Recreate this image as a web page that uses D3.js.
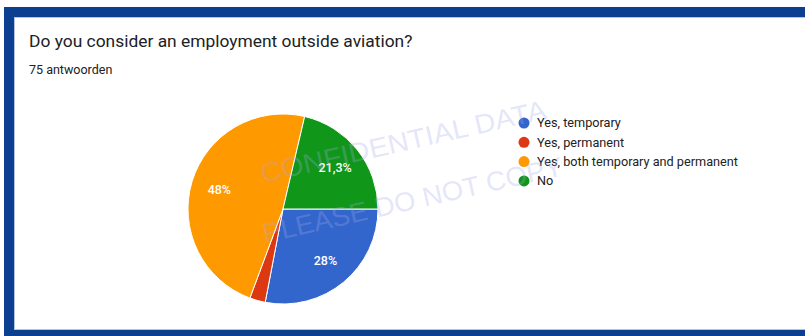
<!DOCTYPE html>
<html>
<head>
<meta charset="utf-8">
<script src="https://cdn.jsdelivr.net/npm/d3@7"></script>
<style>
  html, body { margin: 0; padding: 0; background: #fff; }
  svg { display: block; }
</style>
</head>
<body>
<svg id="chart" width="805" height="336"></svg>
<script>
const title = "Do you consider an employment outside aviation?";
const subtitle = "75 antwoorden";
const categories = ["Yes, temporary", "Yes, permanent", "Yes, both temporary and permanent", "No"];
const counts = [21, 2, 36, 16];
const colors = ["#3366cc", "#dc3912", "#ff9900", "#109618"];
const watermark = ["CONFIDENTIAL DATA", "PLEASE DO NOT COPY"];

const svg = d3.select("#chart");
const W = 805, H = 336;
const font = "Roboto, 'Liberation Sans', Arial, sans-serif";

// frame
const frameBlue = "#0d3f91";
svg.append("rect").attr("x", 4).attr("y", 7).attr("width", W - 4).attr("height", 10).attr("fill", frameBlue);
svg.append("rect").attr("x", 4).attr("y", 7).attr("width", 10).attr("height", H - 7).attr("fill", frameBlue);
svg.append("rect").attr("x", 4).attr("y", 330).attr("width", W - 4).attr("height", 6).attr("fill", frameBlue);
svg.append("rect").attr("x", 14.5).attr("y", 17.5).attr("width", W - 14).attr("height", 312)
  .attr("fill", "none").attr("stroke", "#b4c3e0").attr("stroke-width", 1);

// title
svg.append("text").attr("x", 29).attr("y", 47)
  .attr("font-family", font).attr("font-size", 17.4).attr("fill", "#202124")
  .text(title);
svg.append("text").attr("x", 29).attr("y", 74)
  .attr("font-family", font).attr("font-size", 12.5).attr("fill", "#202124")
  .text(subtitle);

// pie
const cx = 283, cy = 209, r = 95;
const total = d3.sum(counts);
const pie = d3.pie().sort(null).value(d => d)
  .startAngle(Math.PI / 2).endAngle(Math.PI / 2 + 2 * Math.PI);
const arcs = pie(counts);
const arc = d3.arc().innerRadius(0).outerRadius(r);
const labelArc = d3.arc().innerRadius(r * 0.7).outerRadius(r * 0.7);

const g = svg.append("g").attr("transform", `translate(${cx},${cy})`);
g.selectAll("path.slice").data(arcs).join("path")
  .attr("class", "slice")
  .attr("d", arc)
  .attr("fill", (d, i) => colors[i])
  .attr("stroke", "#fff").attr("stroke-width", 1);

const fmt = v => {
  const p = Math.round(v / total * 1000) / 10;
  return (Number.isInteger(p) ? String(p) : p.toFixed(1).replace(".", ",")) + "%";
};
g.selectAll("text.lbl").data(arcs.filter(d => (d.endAngle - d.startAngle) > 0.3)).join("text")
  .attr("class", "lbl")
  .attr("transform", d => `translate(${labelArc.centroid(d)})`)
  .attr("text-anchor", "middle").attr("dominant-baseline", "central")
  .attr("font-family", font).attr("font-size", 12.5).attr("font-weight", 500)
  .attr("fill", "#fff")
  .text(d => fmt(d.value));

// legend
const lg = svg.append("g").attr("transform", "translate(524,123)");
const items = lg.selectAll("g").data(categories).join("g")
  .attr("transform", (d, i) => `translate(0,${i * 19.3})`);
items.append("circle").attr("r", 5.5).attr("fill", (d, i) => colors[i]);
items.append("text").attr("x", 13).attr("dy", "0.35em")
  .attr("font-family", font).attr("font-size", 12.7).attr("fill", "#222")
  .text(d => d);

// watermark
const wm = svg.append("g").attr("pointer-events", "none");
const wmPos = [[263, 183, 292], [265, 243, 307]];
watermark.forEach((t, i) => {
  wm.append("text")
    .attr("transform", `translate(${wmPos[i][0]},${wmPos[i][1]}) rotate(-12.8)`)
    .attr("font-family", "'Liberation Sans', Arial, sans-serif")
    .attr("font-size", 27)
    .attr("textLength", wmPos[i][2]).attr("lengthAdjust", "spacingAndGlyphs")
    .attr("fill", "#a8a8ea").attr("fill-opacity", 0.3)
    .text(t);
});
</script>
</body>
</html>
